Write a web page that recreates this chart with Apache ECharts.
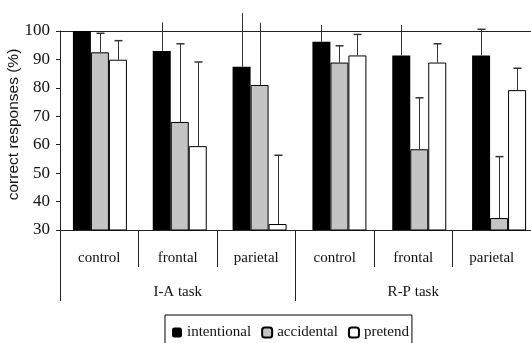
<!DOCTYPE html>
<html><head><meta charset="utf-8">
<script src="https://cdn.jsdelivr.net/npm/echarts@6/dist/echarts.min.js"></script>
<style>html,body{margin:0;padding:0;background:#fff}#c{width:531px;height:343px}</style>
</head><body><div id="c"></div>
<script>
const categories = ['control','frontal','parietal','control','frontal','parietal'];
const groups = ['I-A task','R-P task'];
const seriesNames = ['intentional','accidental','pretend'];
const intentional = [100, 93.0, 87.4, 96.2, 91.4, 91.4];
const accidental  = [92.5, 68.0, 81.0, 88.9, 58.4, 34.2];
const pretend     = [89.9, 59.5, 32.1, 91.4, 88.9, 79.2];
const intentionalErr = [100, 103.0, 106.3, 102.1, 102.1, 100.6];
const accidentalErr  = [99.2, 95.5, 102.9, 94.8, 76.5, 55.8];
const pretendErr     = [96.6, 89.1, 56.3, 98.8, 95.5, 86.9];
const yTicks = [30,40,50,60,70,80,90,100];

const values = [intentional, accidental, pretend];
const errs = [intentionalErr, accidentalErr, pretendErr];
const colors = ['#000000','#c4c4c4','#ffffff'];
const serif = '"Liberation Serif", "DejaVu Serif", serif';

const chart = echarts.init(document.getElementById('c'));
const errData = [];
for (let s = 0; s < 3; s++) for (let i = 0; i < categories.length; i++) errData.push([i, values[s][i], errs[s][i], s]);

const BW = 18;
const series = seriesNames.map((n, s) => ({
  name: n, type: 'bar', data: values[s], barWidth: BW, barGap: '0%',
  xAxisIndex: 0, yAxisIndex: 0,
  itemStyle: {color: colors[s], borderColor: '#000', borderWidth: s === 0 ? 0 : 1},
  z: 2
}));
series.push({
  type: 'custom', data: errData, clip: false, z: 3, silent: true,
  xAxisIndex: 0, yAxisIndex: 0,
  renderItem: function (params, api) {
    const i = api.value(0), v = api.value(1), e = api.value(2), s = api.value(3);
    if (e <= v) return null;
    const base = api.coord([i, v]);
    const top = api.coord([i, e]);
    const x = Math.round(base[0] + (s - 1) * BW) + 0.5;
    const children = [{type: 'line', shape: {x1: x, y1: base[1], x2: x, y2: top[1]}, style: {stroke: '#333', lineWidth: 1}}];
    if (e <= 101) children.push({type: 'line', shape: {x1: x - 4, y1: top[1], x2: x + 4, y2: top[1]}, style: {stroke: '#333', lineWidth: 1.5}});
    return {type: 'group', children: children};
  }
});

chart.setOption({
  animation: false,
  grid: [
    {left: 60, width: 479, top: 31, bottom: 113, containLabel: false, outerBoundsMode: 'none'},
    {left: 60, width: 471, top: 31, bottom: 113, containLabel: false, outerBoundsMode: 'none'}
  ],
  legend: {
    data: seriesNames, top: 315, left: 165, itemWidth: 10, itemHeight: 10, itemGap: 10,
    borderColor: '#000', borderWidth: 1, padding: [10, 3, 14, 7],
    textStyle: {fontFamily: serif, fontSize: 15, color: '#111'}
  },
  xAxis: [
    {type: 'category', data: categories, gridIndex: 0, position: 'bottom',
     axisLine: {show: false}, axisTick: {show: false}, axisLabel: {show: false}},
    {type: 'category', data: categories, gridIndex: 1, position: 'bottom',
     axisLine: {lineStyle: {color: '#222'}},
     axisTick: {show: true, length: 37, interval: 0, lineStyle: {color: '#222'}},
     axisLabel: {interval: 0, margin: 21, fontFamily: serif, fontSize: 15, color: '#111'}},
    {type: 'category', data: groups, gridIndex: 1, position: 'bottom', offset: 0,
     axisLine: {lineStyle: {color: '#222'}},
     axisTick: {show: true, length: 71, interval: 0, lineStyle: {color: '#222'}},
     axisLabel: {interval: 0, margin: 55, fontFamily: serif, fontSize: 15, color: '#111'}},
    {type: 'category', data: categories, gridIndex: 1, position: 'top',
     axisLine: {lineStyle: {color: '#222'}}, axisTick: {show: false}, axisLabel: {show: false}}
  ],
  yAxis: [
    {type: 'value', gridIndex: 0, min: 30, max: 100, interval: 10,
     name: 'correct responses (%)', nameLocation: 'middle', nameGap: 38, nameMoveOverlap: false,
     nameTextStyle: {fontFamily: '"Liberation Sans", Arial, sans-serif', fontSize: 15.5, color: '#111', padding: [0, 0, 0, 12]},
     axisLine: {show: true, lineStyle: {color: '#222'}},
     axisTick: {show: true, length: 4, lineStyle: {color: '#222'}},
     splitLine: {show: false},
     axisLabel: {margin: 10, fontFamily: serif, fontSize: 17, color: '#111',
       formatter: v => yTicks.includes(v) ? String(v) : ''}},
    {type: 'value', gridIndex: 1, min: 30, max: 100, interval: 10, show: false}
  ],
  series: series
});
</script></body></html>
